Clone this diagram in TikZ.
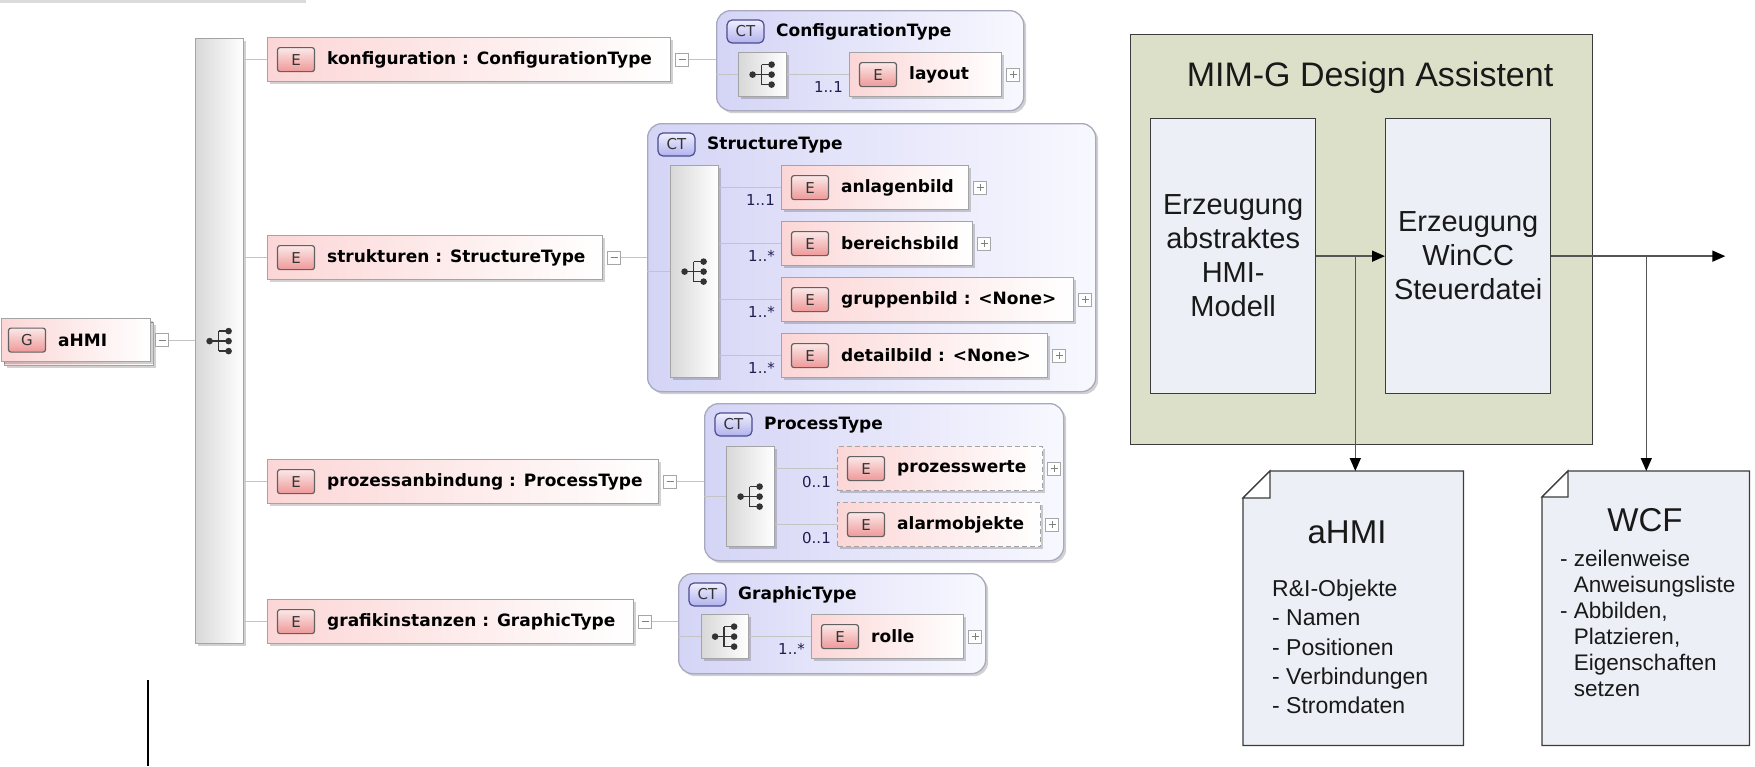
\documentclass[tikz,border=0pt]{standalone}
\usepackage{fontspec}
\usetikzlibrary{shadows,arrows.meta}
\newfontfamily\xfont{DejaVu Sans}
\newfontfamily\rfont{Liberation Sans}

\definecolor{elpink}{HTML}{FCD6D6}
\definecolor{elline}{HTML}{A4A4A4}
\definecolor{ctlav}{HTML}{D4D4F6}
\definecolor{ctlavR}{HTML}{F8F8FF}
\definecolor{ctline}{HTML}{A8A8BE}
\definecolor{seqL}{HTML}{D8D8D8}
\definecolor{connc}{HTML}{C4C4C4}
\definecolor{multc}{HTML}{1E1E4E}
\definecolor{mimfill}{HTML}{DDE0C9}
\definecolor{boxfill}{HTML}{ECEFF5}
\definecolor{edge}{HTML}{3C3C3C}
\definecolor{arrc}{HTML}{555555}
\definecolor{badgeT}{HTML}{FCE8E8}
\definecolor{badgeB}{HTML}{EE9898}
\definecolor{ctbT}{HTML}{EFEFFF}
\definecolor{ctbB}{HTML}{B2B2EE}

\tikzset{
  shad/.style={drop shadow={shadow xshift=2.5pt,shadow yshift=-2.5pt,fill=black,opacity=0.18}},
  elbox/.style={anchor=north west,inner sep=0pt,minimum height=44pt,draw=elline,
    line width=1.2pt,left color=elpink,right color=white,shad},
  ebadge/.style={rounded corners=2.5pt,minimum width=37pt,minimum height=24pt,inner sep=0pt,
    draw=black!62,line width=1.2pt,top color=badgeT,bottom color=badgeB,
    font=\xfont\fontsize{15}{15}\selectfont,text=black!80},
  ctbadge/.style={rounded corners=5pt,minimum width=37pt,minimum height=23pt,inner sep=0pt,
    draw=black!62!blue!70,line width=1.2pt,top color=ctbT,bottom color=ctbB,
    font=\xfont\fontsize{15}{15}\selectfont,text=black!80},
  etext/.style={inner sep=0pt,font=\xfont\bfseries\fontsize{17}{19}\selectfont,text=black},
  mult/.style={inner sep=0pt,anchor=east,font=\xfont\fontsize{15}{15}\selectfont,text=multc},
  seqbox/.style={anchor=north west,inner sep=0pt,draw=elline,line width=1.2pt,
    left color=seqL,right color=white,shad},
  ctbox/.style={anchor=north west,inner sep=0pt,rounded corners=14pt,draw=ctline,
    line width=1.3pt,left color=ctlav,right color=ctlavR,shad},
  tog/.style={anchor=west,minimum size=13pt,inner sep=0pt,draw=black!35,line width=1pt,fill=white},
  togminus/.style={tog,path picture={\draw[black!50,line width=1pt]
      ([xshift=3pt]path picture bounding box.west) -- ([xshift=-3pt]path picture bounding box.east);}},
  togplus/.style={tog,path picture={\draw[black!50,line width=1pt]
      ([xshift=3pt]path picture bounding box.west) -- ([xshift=-3pt]path picture bounding box.east)
      ([yshift=-3pt]path picture bounding box.north) -- ([yshift=3pt]path picture bounding box.south);}},
  conn/.style={draw=connc,line width=1.2pt},
  seqicon/.pic={
    \draw[black!80,line width=1.5pt] (-10,0) -- (-1,0) (-1,-10) -- (-1,10)
      (-1,-10) -- (9,-10) (-1,0) -- (9,0) (-1,10) -- (9,10);
    \fill[black!80] (-10,0) circle[radius=3.3pt] (9,-10) circle[radius=3.3pt]
      (9,0) circle[radius=3.3pt] (9,10) circle[radius=3.3pt];
  },
  mim/.style={draw=edge,line width=1.3pt,fill=mimfill},
  procbox/.style={anchor=north west,inner sep=0pt,draw=edge,line width=1.3pt,fill=boxfill,
    align=center,font=\rfont\fontsize{29}{34}\selectfont,text=black!90},
  docline/.style={draw=edge,line width=1.3pt,fill=boxfill},
  arr/.style={draw=arrc,line width=1.5pt,-{Triangle[length=13pt,width=11pt,color=black]}},
}

% element box: [extra style]{name}{x1}{y1}{x2}{label}
\newcommand\xelem[6][]{%
  \node[elbox,#1,minimum width={#5-#3}] (#2) at (#3,#4) {};
  \node[ebadge] (#2-b) at ([xshift=29pt]#2.west) {E};
  \node[etext,anchor=west] (#2-t) at ([xshift=60pt]#2.west) {#6};
}
% sequence compositor: {name}{x1}{y1}{x2}{y2}
\newcommand\xseq[5]{%
  \node[seqbox,minimum width={#4-#2},minimum height={#5-#3}] (#1) at (#2,#3) {};
  \pic at (#1.center) {seqicon};
}
% complex type frame: {name}{x1}{y1}{x2}{y2}{title}
\newcommand\xct[6]{%
  \node[ctbox,minimum width={#4-#2},minimum height={#5-#3}] (#1) at (#2,#3) {};
  \node[ctbadge] (#1-b) at ([xshift=29.5pt,yshift=-21.5pt]#1.north west) {CT};
  \node[etext,anchor=west] (#1-t) at ([xshift=60pt,yshift=-22pt]#1.north west) {#6};
}

\begin{document}
\begin{tikzpicture}[x=1pt,y=-1pt]
\useasboundingbox (0,0) rectangle (1755,766);

% cut-off frame edge at the top
\fill[black!14] (0,0) rectangle (306,2.5);

% ---------------- schema tree ----------------
\xct{ctconf}{716}{10}{1023}{110}{ConfigurationType}
\xct{ctstruct}{647}{123}{1095}{391}{StructureType}
\xct{ctproc}{704}{403}{1063}{560}{ProcessType}
\xct{ctgraph}{678}{573}{985}{673}{GraphicType}

\xseq{seqmain}{195}{38}{243}{643}
\xseq{seqconf}{738}{52}{786}{96}
\xseq{seqstruct}{670}{165}{718}{377}
\xseq{seqproc}{726}{446}{774}{546}
\xseq{seqgraph}{701}{614}{748}{658}

% global root element
\node[elbox,minimum width=149pt,minimum height=43pt] (ahmiback) at (4,322) {};
\node[elbox,minimum width=149pt,minimum height=43pt] (ahmi) at (1,318) {};
\node[ebadge] (ahmi-b) at ([xshift=26pt]ahmi.west) {G};
\node[etext,anchor=west] (ahmi-t) at ([xshift=57pt]ahmi.west) {aHMI};
\node[togminus] (ahmi-m) at ([xshift=4pt]ahmi.east) {};

\xelem{konf}{267}{37}{670}{konfiguration : ConfigurationType}
\xelem{strukt}{267}{235}{602}{strukturen : StructureType}
\xelem{proz}{267}{459}{658}{prozessanbindung : ProcessType}
\xelem{grafik}{267}{599}{633}{grafikinstanzen : GraphicType}

\xelem{layout}{849}{52}{1001}{layout}
\xelem{anlagen}{781}{165}{968}{anlagenbild}
\xelem{bereich}{781}{221}{972}{bereichsbild}
\xelem{gruppen}{781}{277}{1073}{gruppenbild : <None>}
\xelem{detail}{781}{333}{1047}{detailbild : <None>}
\xelem[dashed,dash pattern=on 5pt off 3pt]{pwerte}{837}{446}{1042}{prozesswerte}
\xelem[dashed,dash pattern=on 5pt off 3pt]{alarm}{837}{502}{1040}{alarmobjekte}
\xelem{rolle}{811}{614}{963}{rolle}

% collapse / expand buttons
\foreach \n in {konf,strukt,proz,grafik}
  \node[togminus] (\n-m) at ([xshift=4pt]\n.east) {};
\foreach \n in {layout,anlagen,bereich,gruppen,detail,pwerte,alarm,rolle}
  \node[togplus] (\n-p) at ([xshift=4pt]\n.east) {};

% connectors
\draw[conn] (ahmi-m.east) -- (seqmain.west |- ahmi-m.east);
\foreach \n in {konf,strukt,proz,grafik}
  \draw[conn] (seqmain.east |- \n.west) -- (\n.west);
\draw[conn] (konf-m.east) -- (ctconf.west |- konf-m.east);
\draw[conn] (strukt-m.east) -- (ctstruct.west |- strukt-m.east);
\draw[conn] (proz-m.east) -- (ctproc.west |- proz-m.east);
\draw[conn] (grafik-m.east) -- (ctgraph.west |- grafik-m.east);
\draw[conn] (ctconf.west |- seqconf.west) -- (seqconf.west);
\draw[conn] (ctstruct.west |- seqstruct.west) -- (seqstruct.west);
\draw[conn] (ctproc.west |- seqproc.west) -- (seqproc.west);
\draw[conn] (ctgraph.west |- seqgraph.west) -- (seqgraph.west);
\draw[conn] (seqconf.east |- layout.west) -- (layout.west);
\foreach \n in {anlagen,bereich,gruppen,detail}
  \draw[conn] (seqstruct.east |- \n.west) -- (\n.west);
\foreach \n in {pwerte,alarm}
  \draw[conn] (seqproc.east |- \n.west) -- (\n.west);
\draw[conn] (seqgraph.east |- rolle.west) -- (rolle.west);

% occurrence labels
\node[mult] at ([xshift=-6pt,yshift=-12pt]layout.west) {1..1};
\node[mult] at ([xshift=-6pt,yshift=-12pt]anlagen.west) {1..1};
\node[mult] at ([xshift=-6pt,yshift=-12pt]bereich.west) {1..*};
\node[mult] at ([xshift=-6pt,yshift=-12pt]gruppen.west) {1..*};
\node[mult] at ([xshift=-6pt,yshift=-12pt]detail.west) {1..*};
\node[mult] at ([xshift=-6pt,yshift=-13pt]pwerte.west) {0..1};
\node[mult] at ([xshift=-6pt,yshift=-13pt]alarm.west) {0..1};
\node[mult] at ([xshift=-6pt,yshift=-12pt]rolle.west) {1..*};

% marker line at the bottom left
\coordinate (mk1) at (148,680);
\coordinate (mk2) at (148,766);
\draw[line width=2pt] (mk1) -- (mk2);

% ---------------- design assistant ----------------
\node[mim,anchor=north west,minimum width=462pt,minimum height=410pt,inner sep=0pt] (mim) at (1130,34) {};
\node[font=\rfont\fontsize{34}{34}\selectfont,text=black!90] (mimt) at (1370,78) {MIM-G Design Assistent};
\node[procbox,minimum width=165pt,minimum height=275pt] (gen1) at (1150,118)
  {Erzeugung\\abstraktes\\HMI-\\Modell};
\node[procbox,minimum width=165pt,minimum height=275pt] (gen2) at (1385,118)
  {Erzeugung\\WinCC\\Steuerdatei};

% output documents
\node[inner sep=0pt,minimum width=220pt,minimum height=274pt,anchor=north west] (doc1) at (1243,471) {};
\node[inner sep=0pt,minimum width=207pt,minimum height=274pt,anchor=north west] (doc2) at (1542,471) {};
\foreach \d/\f in {doc1/27,doc2/26}{
  \draw[docline] ([yshift=-\f pt]\d.north west) -- ([xshift=\f pt]\d.north west)
    -- (\d.north east) -- (\d.south east) -- (\d.south west) -- cycle;
  \draw[draw=edge,line width=1.3pt,fill=white] ([yshift=-\f pt]\d.north west)
    -- ([xshift=\f pt,yshift=-\f pt]\d.north west) -- ([xshift=\f pt]\d.north west) -- cycle;
}
\node[font=\rfont\fontsize{33}{33}\selectfont,text=black!90] (doc1t) at (1347,532) {aHMI};
\node[font=\rfont\fontsize{23}{29.3}\selectfont,text=black!90,align=left,anchor=west,inner sep=0pt]
  (doc1b) at (1272,647) {R\&I-Objekte\\- Namen\\- Positionen\\- Verbindungen\\- Stromdaten};
\node[font=\rfont\fontsize{33}{33}\selectfont,text=black!90] (doc2t) at (1645,520) {WCF};
\node[font=\rfont\fontsize{22.5}{26}\selectfont,text=black!90,align=left,anchor=west,inner sep=0pt]
  (doc2b) at (1560,623) {- zeilenweise\\\hphantom{- }Anweisungsliste\\- Abbilden,\\\hphantom{- }Platzieren,\\\hphantom{- }Eigenschaften\\\hphantom{- }setzen};

% data flow
\coordinate (j1) at ([xshift=39pt]gen1.east);
\coordinate (j2) at ([xshift=95pt]gen2.east);
\coordinate (out) at ([xshift=174pt]gen2.east);
\draw[arr] (gen1.east) -- (gen2.west);
\draw[arr] (j1) -- (j1 |- doc1.north);
\draw[arr] (gen2.east) -- (out);
\draw[arr] (j2) -- (j2 |- doc2.north);
\end{tikzpicture}
\end{document}
